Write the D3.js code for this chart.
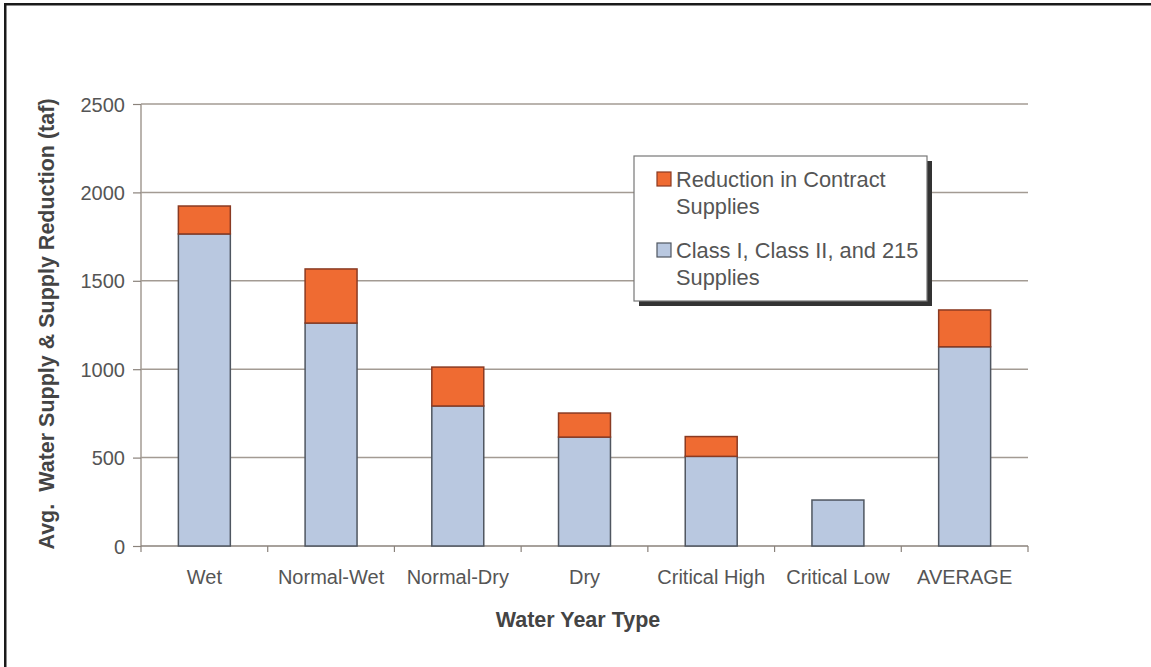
<!DOCTYPE html>
<html><head><meta charset="utf-8">
<script src="https://cdn.jsdelivr.net/npm/d3@7"></script>
<style>body{margin:0;background:#fff}svg{display:block;font-family:"Liberation Sans",Arial,sans-serif}</style>
</head><body><svg id="c" width="1151" height="667"></svg>
<script>
const categories = ["Wet","Normal-Wet","Normal-Dry","Dry","Critical High","Critical Low","AVERAGE"];
const classSupplies = [1765, 1261, 792, 616, 507, 260, 1127];
const reduction = [158, 306, 220, 136, 112, 0, 208];
const yTicks = [0, 500, 1000, 1500, 2000, 2500];
const seriesNames = ["Reduction in Contract Supplies", "Class I, Class II, and 215 Supplies"];

const svg = d3.select("#c");
const M = {l:141, r:1028, t:104, b:546};
const x = d3.scaleBand().domain(categories).range([M.l, M.r]).paddingInner(0.59).paddingOuter(0.295);
const y = d3.scaleLinear().domain([0, 2500]).range([M.b, M.t]);

// outer frame (top & left)
svg.append("rect").attr("x",4).attr("y",3).attr("width",1147).attr("height",2.5).attr("fill","#1a1a1a");
svg.append("rect").attr("x",4).attr("y",3).attr("width",2.5).attr("height",664).attr("fill","#1a1a1a");

// gridlines
svg.append("g").selectAll("line").data(yTicks.filter(d=>d>0)).join("line")
  .attr("x1",M.l).attr("x2",M.r).attr("y1",d=>y(d)).attr("y2",d=>y(d))
  .attr("stroke","#a39b93").attr("stroke-width",1.5);

// y axis
const ya = svg.append("g").attr("transform",`translate(${M.l},0)`)
  .call(d3.axisLeft(y).tickValues(yTicks).tickFormat(d3.format("d")).tickSize(6).tickPadding(9));
ya.select(".domain").attr("stroke","#a39b93").attr("stroke-width",1.5).attr("d",`M0,${M.t}V${M.b}`);
ya.selectAll(".tick line").attr("stroke","#8a827b").attr("stroke-width",1.2).attr("x1",-8).attr("x2",0);
ya.selectAll(".tick text").attr("fill","#555").attr("font-size",20).attr("dy","0.35em").attr("x",-16)
  .attr("font-family","Liberation Sans, Arial, sans-serif");

// x axis
const xa = svg.append("g").attr("transform",`translate(0,${M.b})`)
  .call(d3.axisBottom(x).tickSize(0).tickPadding(24));
xa.select(".domain").attr("stroke","#8a827b").attr("stroke-width",1.5).attr("d",`M${M.l},0H${M.r}`);
xa.selectAll(".tick text").attr("fill","#555").attr("font-size",20).attr("font-family","Liberation Sans, Arial, sans-serif");
const step = (M.r - M.l)/categories.length;
svg.append("g").selectAll("line").data(d3.range(categories.length+1)).join("line")
  .attr("x1",i=>M.l+i*step).attr("x2",i=>M.l+i*step).attr("y1",M.b).attr("y2",M.b+6)
  .attr("stroke","#8a827b").attr("stroke-width",1.2);

// bars
const stack = categories.map((c,i)=>({c, a:classSupplies[i], r:reduction[i]}));
svg.append("g").selectAll("rect").data(stack).join("rect")
  .attr("x",d=>x(d.c)).attr("width",x.bandwidth())
  .attr("y",d=>y(d.a)).attr("height",d=>y(0)-y(d.a))
  .attr("fill","#b9c8e0").attr("stroke","#4f5660").attr("stroke-width",1.5);
svg.append("g").selectAll("rect").data(stack.filter(d=>d.r>0)).join("rect")
  .attr("x",d=>x(d.c)).attr("width",x.bandwidth())
  .attr("y",d=>y(d.a+d.r)).attr("height",d=>y(d.a)-y(d.a+d.r))
  .attr("fill","#ef6b32").attr("stroke","#8a3a22").attr("stroke-width",1.5);

// axis titles
svg.append("text").attr("transform","translate(54,324) rotate(-90)").attr("text-anchor","middle")
  .attr("font-size",21.5).attr("font-weight","bold").attr("fill","#444")
  .style("white-space","pre")
  .text("Avg.  Water Supply & Supply Reduction (taf)");
svg.append("text").attr("x",578).attr("y",627).attr("text-anchor","middle")
  .attr("font-size",21.5).attr("font-weight","bold").attr("fill","#444").text("Water Year Type");

// legend
const L = {x:634, y:156, w:293, h:145};
svg.append("rect").attr("x",L.x+5).attr("y",L.y+5).attr("width",L.w).attr("height",L.h).attr("fill","#333");
svg.append("rect").attr("x",L.x).attr("y",L.y).attr("width",L.w).attr("height",L.h).attr("fill","#fff").attr("stroke","#777").attr("stroke-width",1.2);
const legendItems = [
  {lines:["Reduction in Contract","Supplies"], fill:"#ef6b32", stroke:"#8a3a22"},
  {lines:["Class I, Class II, and 215","Supplies"], fill:"#b9c8e0", stroke:"#4f5660"}
];
legendItems.forEach((it,i)=>{
  const y0 = L.y + 16 + i*71;
  svg.append("rect").attr("x",L.x+23).attr("y",y0).attr("width",14).attr("height",14)
    .attr("fill",it.fill).attr("stroke",it.stroke).attr("stroke-width",1.2);
  it.lines.forEach((t,j)=>{
    svg.append("text").attr("x",L.x+42).attr("y",y0+15+j*27).attr("font-size",21.8).attr("fill","#555").text(t);
  });
});
</script></body></html>
